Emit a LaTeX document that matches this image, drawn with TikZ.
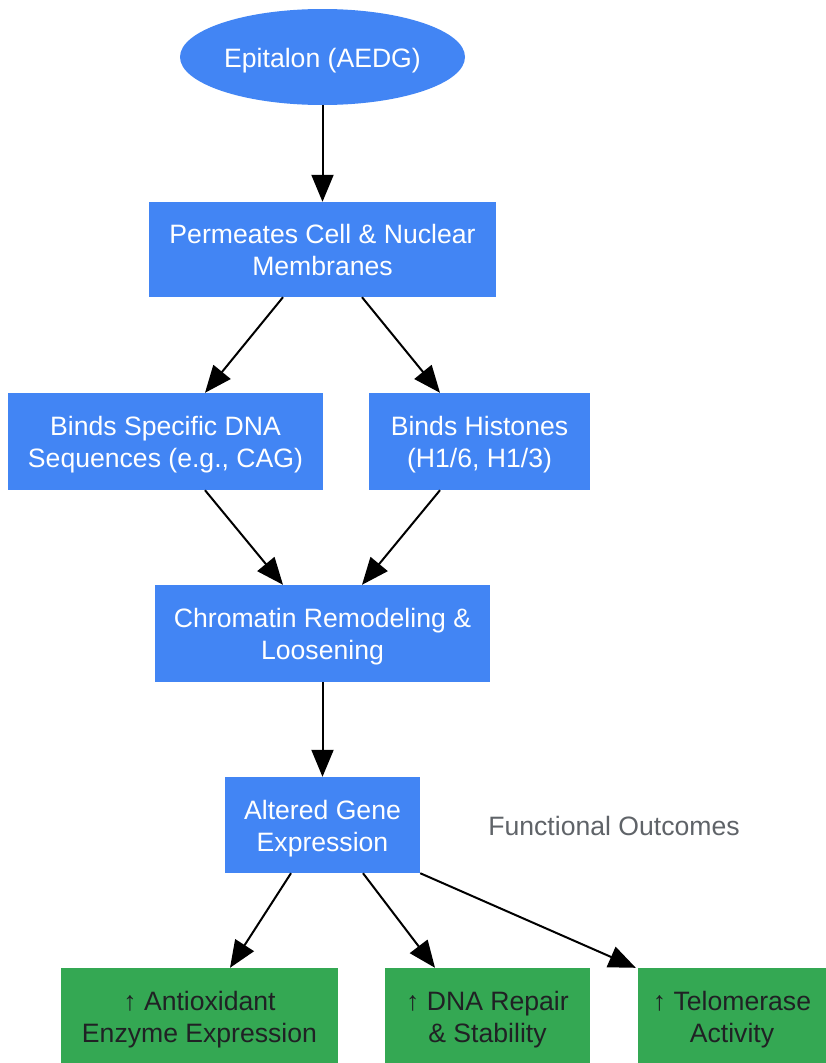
\documentclass[tikz,border=0pt]{standalone}
\usepackage{fontspec}
\setmainfont{Liberation Sans}
\usetikzlibrary{arrows.meta,calc,shapes.geometric}
\definecolor{gblue}{HTML}{4285F4}
\definecolor{ggreen}{HTML}{34A853}
\definecolor{gtext}{HTML}{202124}
\definecolor{ggray}{HTML}{5F6368}
\tikzset{
  bluebox/.style={rectangle, fill=gblue, inner sep=0pt},
  greenbox/.style={rectangle, fill=ggreen, inner sep=0pt},
  wtxt/.style={text=white, inner sep=0pt, anchor=base, font=\fontsize{26.6}{32}\selectfont},
  dtxt/.style={text=gtext, inner sep=0pt, anchor=base, font=\fontsize{26.6}{32}\selectfont},
  arr/.style={draw=black, line width=2pt, -{Triangle[length=27pt,width=22pt]}},
}
% two text lines centred in a named box, baselines at centre-6 and centre+26
\newcommand\mytwolines[4]{%
  \node[#2] (#1-a) at ($(#1.center)+(0,-6)$) {#3};
  \node[#2] (#1-b) at ($(#1.center)+(0,26)$) {#4};}
\begin{document}
\begin{tikzpicture}[x=1pt,y=-1pt]
\useasboundingbox (0,0) rectangle (825,1063);
\node[ellipse, fill=gblue, inner sep=0pt, minimum width=285pt, minimum height=96pt] (ep) at (322.5,57) {};
\node[wtxt] (ep-a) at ($(ep.center)+(0,10)$) {Epitalon (AEDG)};
\node[bluebox, minimum width=347pt, minimum height=95pt] (b1) at (322.5,249.5) {};
\mytwolines{b1}{wtxt}{Permeates Cell \& Nuclear}{Membranes}
\node[bluebox, minimum width=315pt, minimum height=97pt] (b2) at (165.5,441.5) {};
\mytwolines{b2}{wtxt}{Binds Specific DNA}{Sequences (e.g., CAG)}
\node[bluebox, minimum width=221pt, minimum height=97pt] (b3) at (479.5,441.5) {};
\mytwolines{b3}{wtxt}{Binds Histones}{(H1/6, H1/3)}
\node[bluebox, minimum width=335pt, minimum height=97pt] (b4) at (322.5,633.5) {};
\mytwolines{b4}{wtxt}{Chromatin Remodeling \&}{Loosening}
\node[bluebox, minimum width=195pt, minimum height=96pt] (b5) at (322.5,825) {};
\mytwolines{b5}{wtxt}{Altered Gene}{Expression}
\node[text=ggray, font=\fontsize{26.6}{32}\selectfont, inner sep=0pt, anchor=base] (fo) at (614,835) {Functional Outcomes};
\node[greenbox, minimum width=277pt, minimum height=96pt] (g1) at (199.5,1016) {};
\mytwolines{g1}{dtxt}{↑ Antioxidant}{Enzyme Expression}
\node[greenbox, minimum width=205pt, minimum height=96pt] (g2) at (487.5,1016) {};
\mytwolines{g2}{dtxt}{↑ DNA Repair}{\& Stability}
\node[greenbox, minimum width=188pt, minimum height=96pt] (g3) at (732,1016) {};
\mytwolines{g3}{dtxt}{↑ Telomerase}{Activity}

\draw[arr] (ep.south) -- (b1.north);
\draw[arr] ($(b1.south)+(-39.5,0)$) -- ($(b2.north)+(39.5,0)$);
\draw[arr] ($(b1.south)+(39.5,0)$) -- ($(b3.north)+(-39.5,0)$);
\draw[arr] ($(b2.south)+(39.5,0)$) -- ($(b4.north)+(-39.5,0)$);
\draw[arr] ($(b3.south)+(-39.5,0)$) -- ($(b4.north)+(39.5,0)$);
\draw[arr] (b4.south) -- (b5.north);
\draw[arr] ($(b5.south)+(-31.5,0)$) -- ($(g1.north)+(30.5,0)$);
\draw[arr] ($(b5.south)+(40.5,0)$) -- ($(g2.north)+(-52.5,0)$);
\draw[arr] (b5.south east) -- ($(g3.north west)+(-2,0)$);
\end{tikzpicture}
\end{document}
